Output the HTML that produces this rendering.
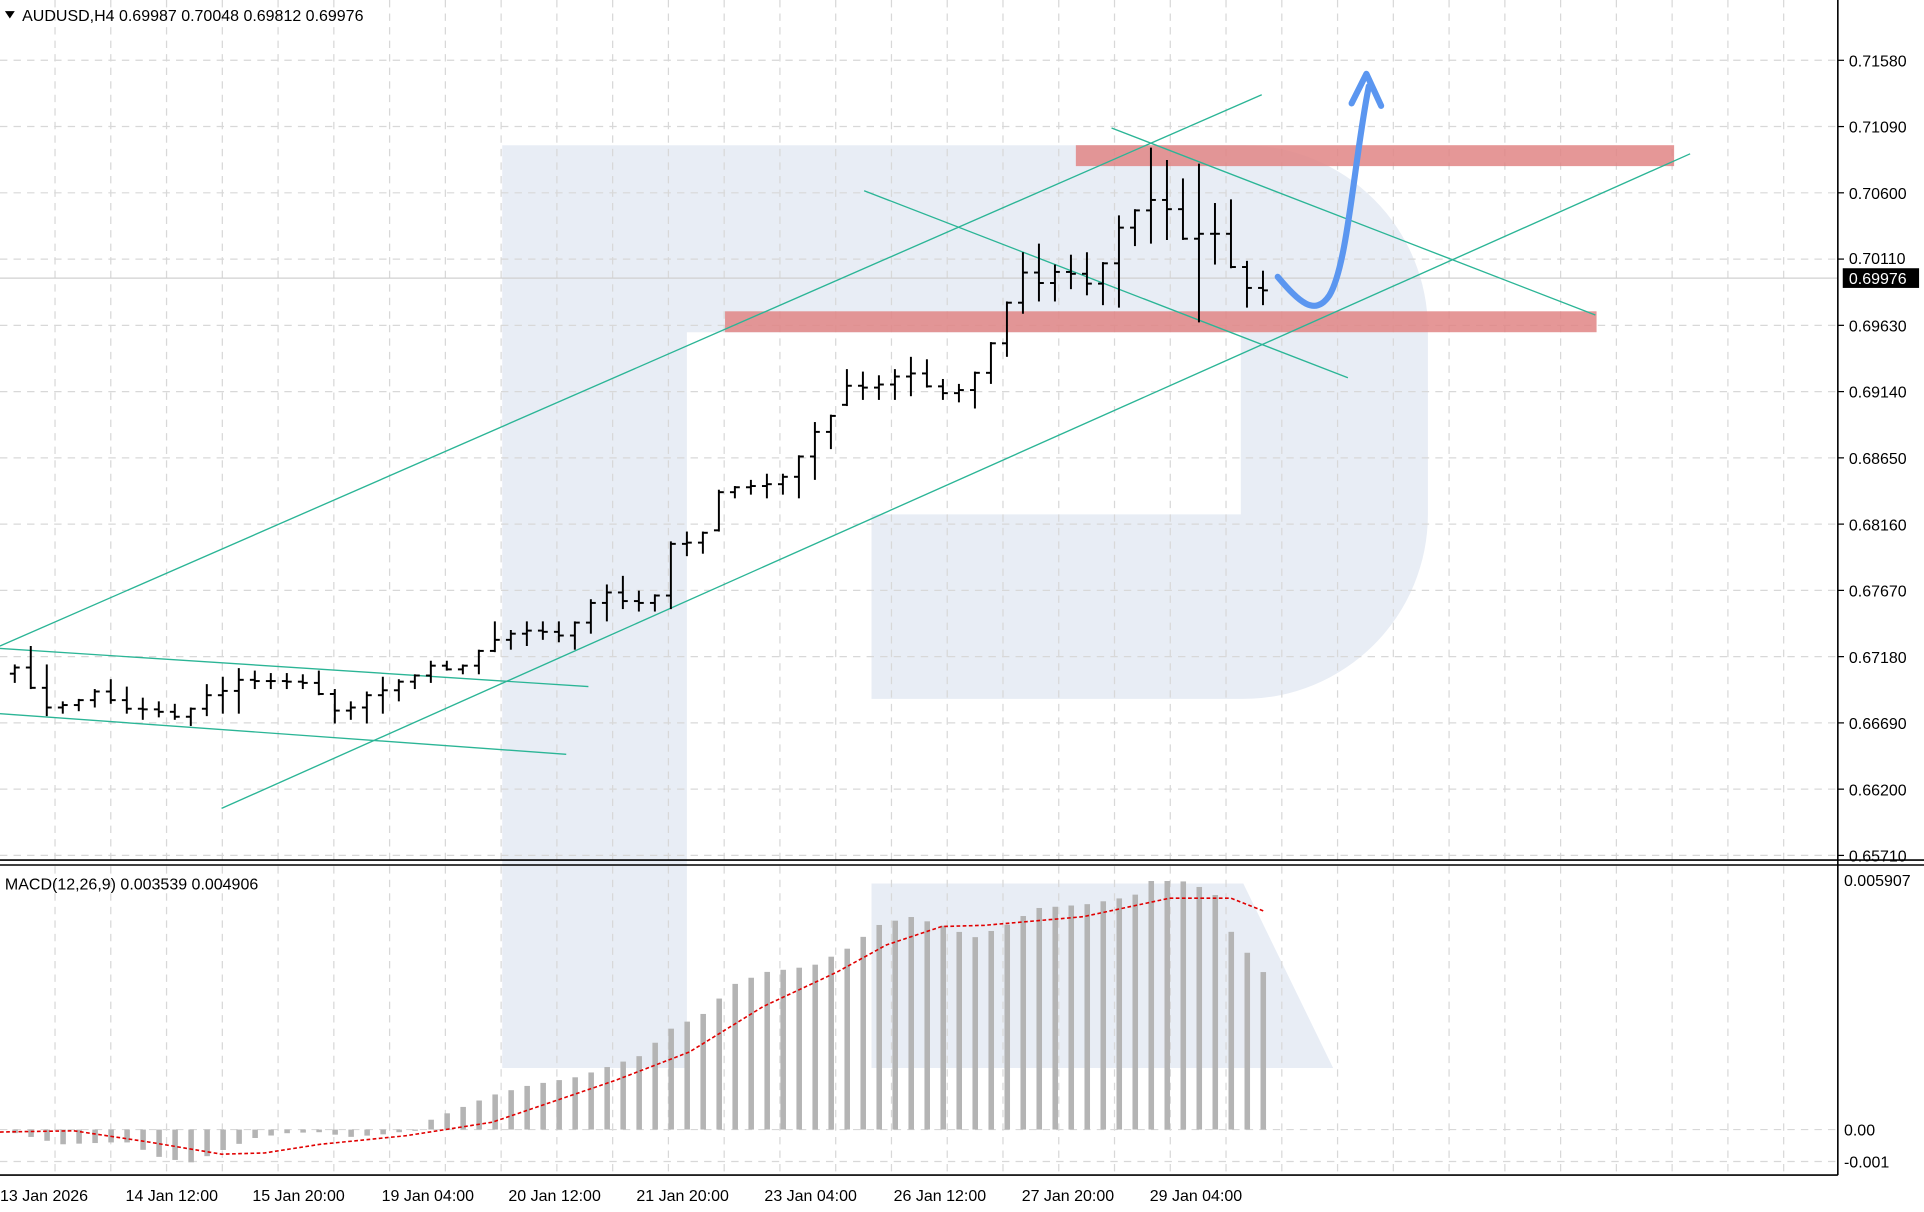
<!DOCTYPE html>
<html><head><meta charset="utf-8"><style>
html,body{margin:0;padding:0;background:#fff;}
svg{display:block;}
text{font-family:"Liberation Sans",sans-serif;font-size:13px;fill:#000;}
</style></head><body>
<svg id="s" width="1924" height="1212" viewBox="0 0 1563 985" preserveAspectRatio="none" xmlns="http://www.w3.org/2000/svg">
<rect width="1563" height="985" fill="#fff"/>
<!-- watermark -->
<g fill="#e8edf5">
<path d="M408 118 H1010 A150 150 0 0 1 1160 268 V418 A150 150 0 0 1 1010 568 H708 V418 H1008 V270 H558 V868 H408 Z"/>
<path d="M708 718 H1010 L1083 868 H708 Z"/>
</g>
<g id="grid" stroke="#d8d8d8" stroke-dasharray="6,5" stroke-width="1"></g>
<line x1="0" y1="226" x2="1493" y2="226" stroke="#d0d0d0"/>
<!-- red zones -->
<rect x="874" y="118" width="486" height="17" fill="#e08585" opacity="0.85"/>
<rect x="589" y="253" width="708" height="17" fill="#e08585" opacity="0.85"/>
<!-- lines -->
<g stroke="#2bb596" stroke-width="1.1">
<line x1="0" y1="525" x2="1025" y2="77"/>
<line x1="180" y1="657" x2="1373" y2="125"/>
<line x1="0" y1="527" x2="478" y2="558"/>
<line x1="0" y1="580" x2="460" y2="613"/>
<line x1="702" y1="155" x2="1095" y2="307"/>
<line x1="903" y1="104" x2="1296" y2="256"/>
</g>
<g id="bars" stroke="#000" stroke-width="1.6"></g>
<g id="macd"></g>
<!-- arrow -->
<path d="M1038 225 C1055 245 1068 258 1080 240 C1095 215 1100 130 1112 70" fill="none" stroke="#5b96f0" stroke-width="5" stroke-linecap="round"/>
<path d="M1098 84 L1110 60 L1122 86" fill="none" stroke="#5b96f0" stroke-width="5" stroke-linecap="round" stroke-linejoin="round"/>
<!-- axes -->
<line x1="1493" y1="0" x2="1493" y2="955" stroke="#000" stroke-width="1.3"/>
<line x1="0" y1="955" x2="1493" y2="955" stroke="#000" stroke-width="1.3"/>
<line x1="0" y1="699" x2="1563" y2="699" stroke="#000" stroke-width="1.3"/>
<line x1="0" y1="703" x2="1563" y2="703" stroke="#000" stroke-width="1.3"/>
<g id="labels"></g>
<rect x="1497" y="218" width="62" height="16" fill="#000"/>
<text x="1502" y="231" style="fill:#fff">0.69976</text>
<path d="M4 9 L12 9 L8 15 Z" fill="#000"/>
<text x="18" y="17">AUDUSD,H4  0.69987 0.70048 0.69812 0.69976</text>
<text x="4" y="723">MACD(12,26,9) 0.003539 0.004906</text>
</svg>
<script>
const NS="http://www.w3.org/2000/svg";
function el(p,t,a,txt){const e=document.createElementNS(NS,t);for(const k in a)e.setAttribute(k,a[k]);if(txt!=null)e.textContent=txt;document.getElementById(p).appendChild(e);return e;}
// grid
for(let x=44.7;x<1493;x+=45.3){el("grid","line",{x1:x,y1:0,x2:x,y2:955});}
const prices=["0.71580","0.71090","0.70600","0.70110","0.69630","0.69140","0.68650","0.68160","0.67670","0.67180","0.66690","0.66200","0.65710"];
prices.forEach((p,i)=>{const y=49+i*53.85;el("grid","line",{x1:0,y1:y,x2:1493,y2:y});
 el("labels","line",{x1:1493,y1:y,x2:1498,y2:y,stroke:"#000"});
 if(i!=3)el("labels","text",{x:1502,y:y+5},p);else el("labels","text",{x:1502,y:y+4},p);});
[918,944].forEach(y=>el("grid","line",{x1:0,y1:y,x2:1493,y2:y}));
el("labels","text",{x:1498,y:720},"0.005907");
el("labels","text",{x:1498,y:923},"0.00");
el("labels","text",{x:1498,y:949},"-0.001");
const xl=[["13 Jan 2026",0],["14 Jan 12:00",102],["15 Jan 20:00",205],["19 Jan 04:00",310],["20 Jan 12:00",413],["21 Jan 20:00",517],["23 Jan 04:00",621],["26 Jan 12:00",726],["27 Jan 20:00",830],["29 Jan 04:00",934]];
xl.forEach(([t,x])=>{el("labels","text",{x:x,y:976},t);});
// bars [high,low] in px
const B=[[540,555],[525,560],[540,582],[570,580],[568,578],[560,575],[552,572],[558,580],[567,585],[570,583],[572,585],[575,590],[556,582],[550,580],[543,580],[545,560],[547,560],[547,560],[548,560],[545,565],[560,588],[570,585],[562,588],[550,580],[552,570],[548,560],[537,555],[537,545],[540,548],[528,548],[505,530],[512,528],[505,525],[505,520],[505,522],[505,528],[487,515],[475,505],[468,495],[480,497],[483,497],[440,495],[432,452],[432,450],[398,432],[395,405],[390,402],[385,405],[385,402],[370,405],[343,390],[337,365],[300,330],[302,325],[305,325],[300,325],[290,322],[292,315],[308,325],[312,327],[302,332],[278,312],[245,290],[205,255],[198,245],[215,245],[207,235],[205,240],[213,248],[175,250],[170,200],[120,198],[130,195],[145,195],[133,262],[165,215],[162,218],[212,250],[220,248]];
const N=B.length;let prev=null;
const cl=(v,a,b)=>Math.max(a,Math.min(b,v));
B.forEach((b,i)=>{const x=12+13*i;const [h,l]=b;
 const nm=i<N-1?(B[i+1][0]+B[i+1][1])/2:236;
 const c=i<N-1?cl(nm,h+1,l-1):236;
 const o=prev==null?(h+l)/2:cl(prev,h+1,l-1);prev=c;
 el("bars","line",{x1:x,y1:h,x2:x,y2:l});
 el("bars","line",{x1:x-4,y1:o,x2:x,y2:o});
 el("bars","line",{x1:x,y1:c,x2:x+4,y2:c});});
// macd
function interp(pts,x){for(let i=0;i<pts.length-1;i++){if(x<=pts[i+1][0]){const [x0,y0]=pts[i],[x1,y1]=pts[i+1];return y0+(y1-y0)*(x-x0)/(x1-x0);}}return pts[pts.length-1][1];}
const H=[[0,918],[50,930],[102,928],[128,940],[154,945],[180,935],[206,925],[232,921],[258,920],[284,924],[310,922],[340,918],[350,910],[400,890],[430,882],[470,875],[520,858],[545,836],[570,825],[596,800],[622,790],[660,785],[690,770],[713,752],[739,745],[765,752],[791,762],[817,752],[843,738],[882,735],[921,728],[934,716],[960,716],[986,725],[999,756],[1012,773],[1025,790]];
B.forEach((b,i)=>{const x=12+13*i;const y=interp(H,x);el("macd","rect",{x:x-2,y:Math.min(y,918),width:4.5,height:Math.max(1,Math.abs(918-y)),fill:"#b4b4b4"});});
const S=[[0,920],[60,919],[120,928],[180,938],[215,937],[260,930],[330,923],[400,912],[450,895],[500,878],[560,855],[620,818],[680,790],[720,768],[765,753],[800,752],[880,745],[950,730],[1000,730],[1028,741]];
el("macd","polyline",{points:S.map(p=>p.join(",")).join(" "),fill:"none",stroke:"#e00000","stroke-width":1.3,"stroke-dasharray":"3,2"});
</script>
</body></html>
